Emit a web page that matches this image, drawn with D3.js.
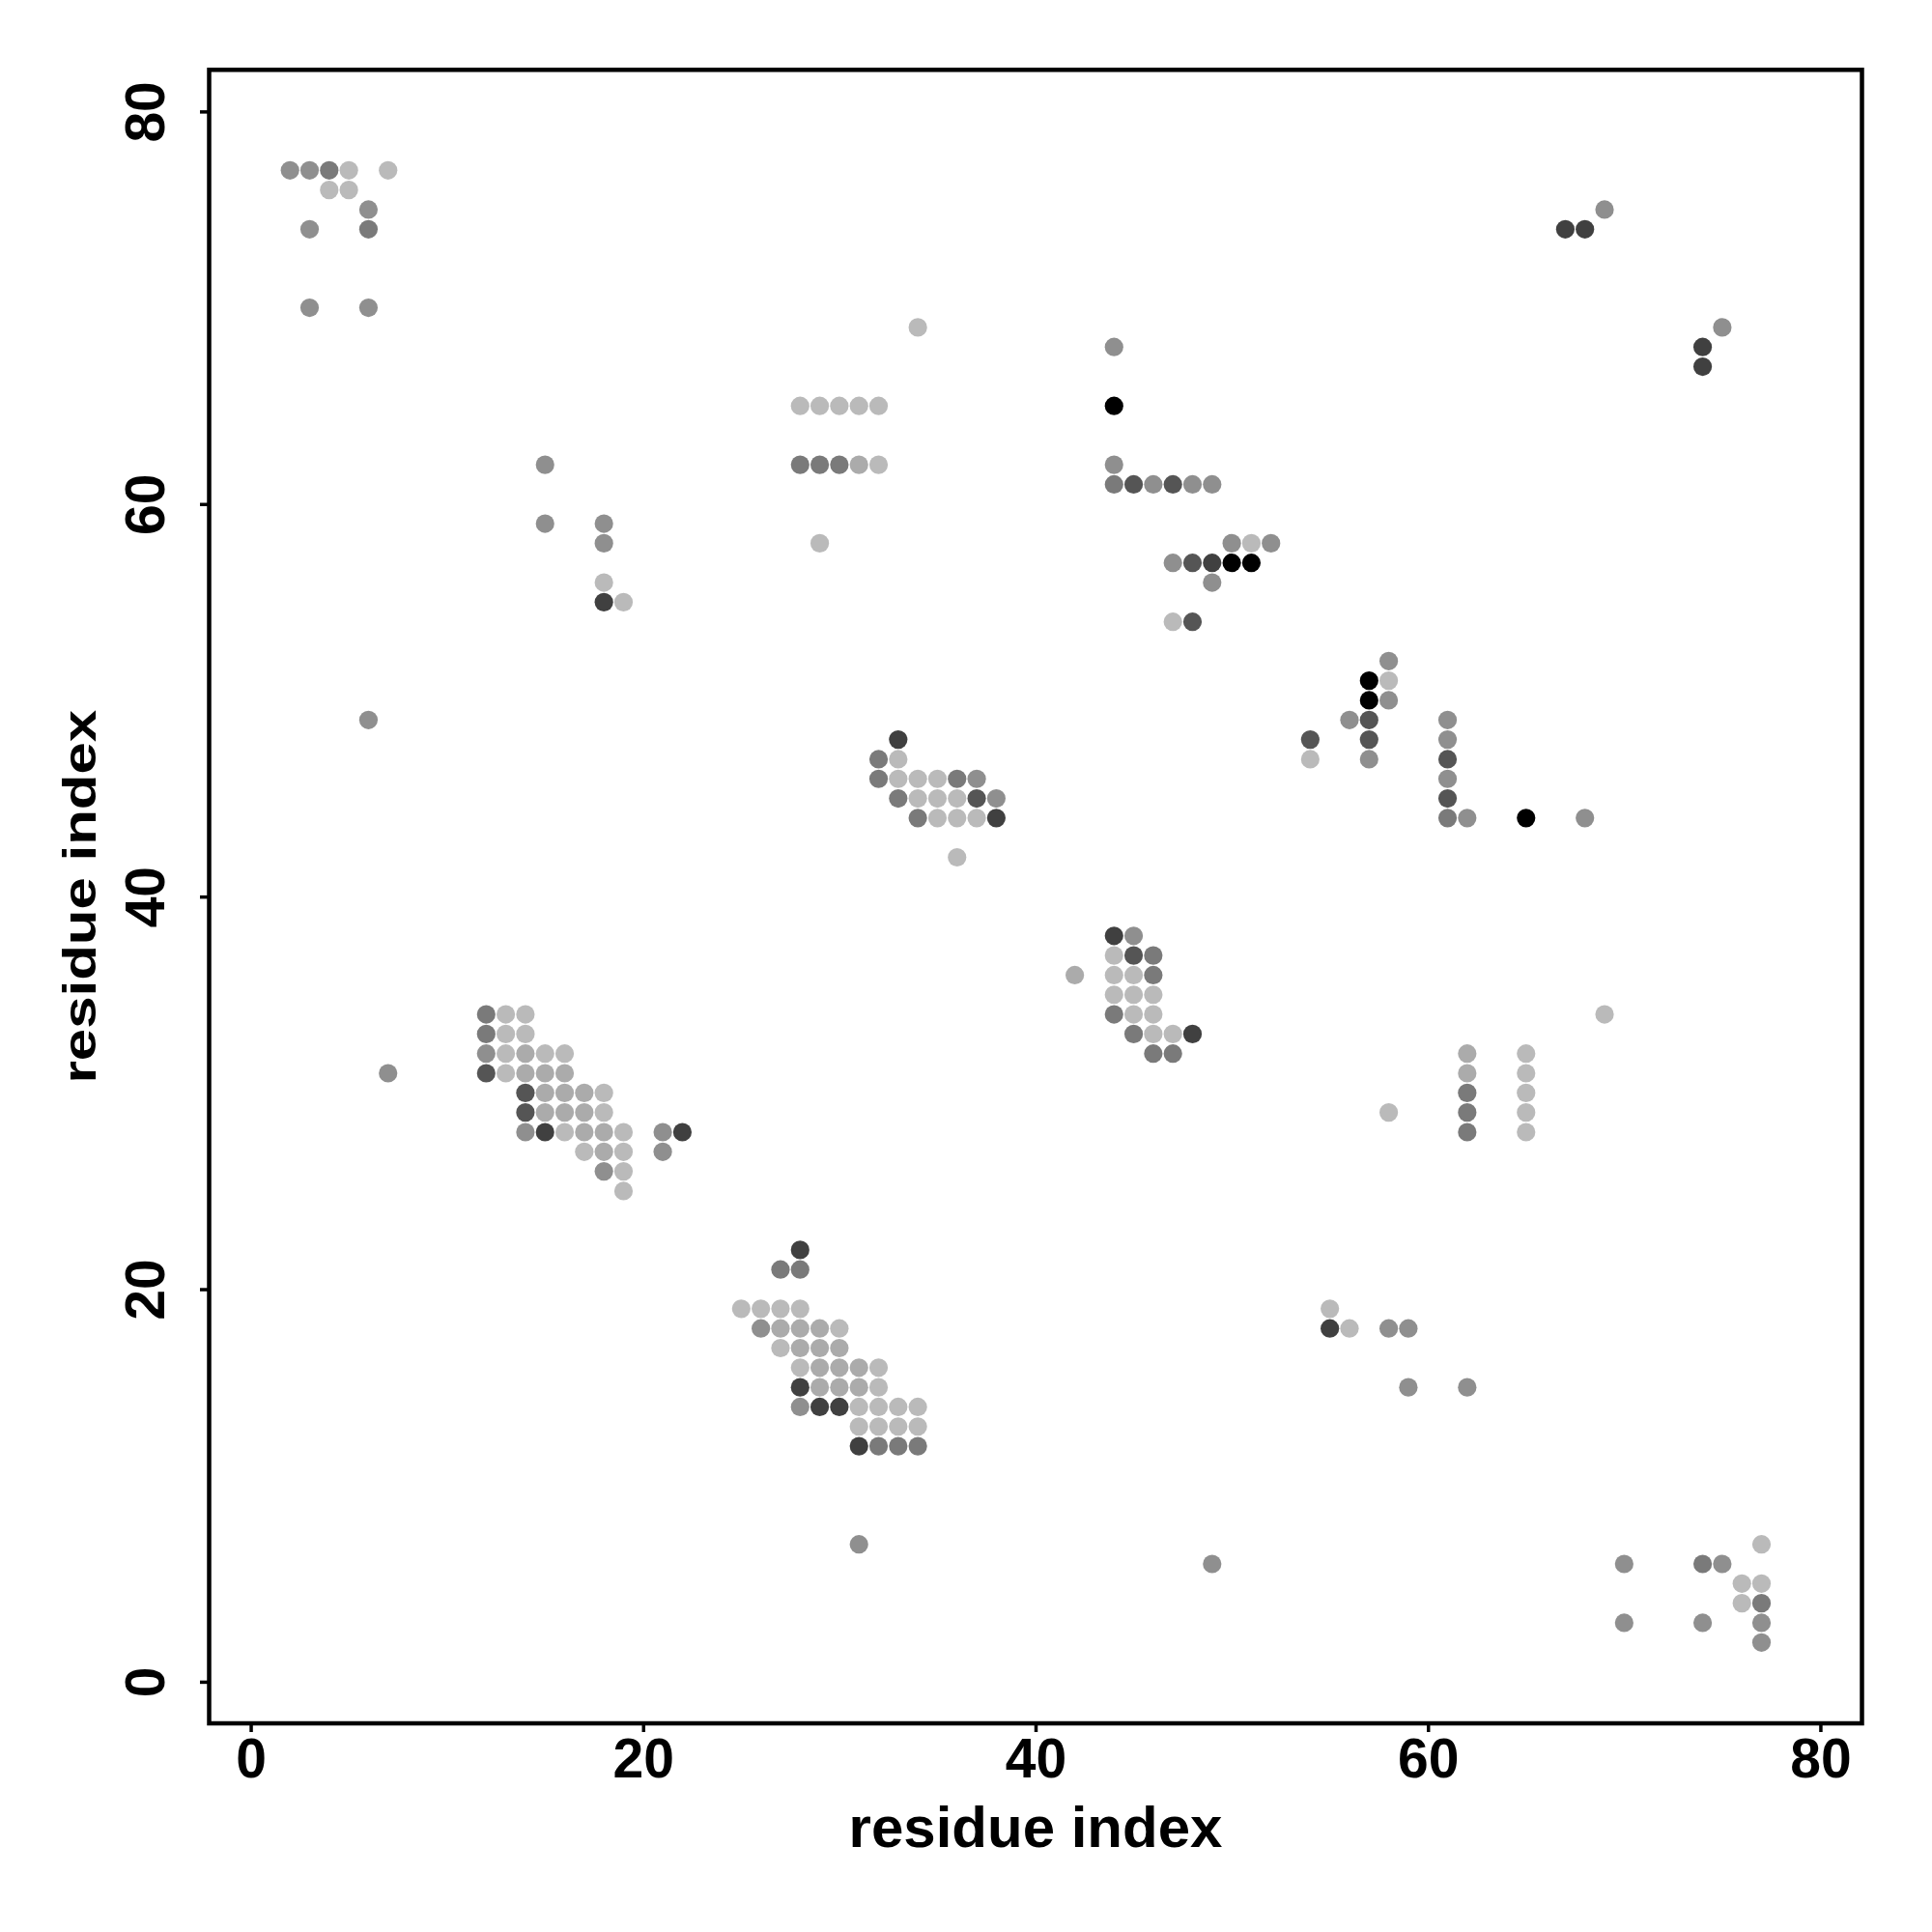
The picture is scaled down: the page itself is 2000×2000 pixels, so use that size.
<!DOCTYPE html>
<html>
<head>
<meta charset="utf-8">
<script src="https://cdn.jsdelivr.net/npm/d3@7"></script>
<style>
  html, body { margin: 0; padding: 0; background: #ffffff; }
  svg { display: block; }
  text { font-family: "Liberation Sans", Arial, Helvetica, sans-serif; font-weight: bold; fill: #000; }
</style>
</head>
<body>
<script>
// contacts: [residue i (x), residue j (y), shade level]
const contacts = [
  [2,77,4],[3,77,4],[4,77,3],[5,77,6],[7,77,6],
  [4,76,6],[5,76,6],[6,75,4],[3,74,4],[6,74,3],[3,70,4],[6,70,4],
  [15,62,4],[15,59,4],[18,59,4],[18,58,4],[18,56,6],[18,55,1],[19,55,6],
  [6,49,4],[7,31,4],
  [34,69,6],
  [28,65,6],[29,65,6],[30,65,6],[31,65,6],[32,65,6],
  [28,62,3],[29,62,3],[30,62,3],[31,62,5],[32,62,6],
  [29,58,6],
  [44,68,4],[44,65,0],[44,62,4],
  [44,61,3],[45,61,2],[46,61,4],[47,61,2],[48,61,4],[49,61,4],
  [50,58,4],[51,58,6],[52,58,4],
  [47,57,4],[48,57,2],[49,57,1],[50,57,0],[51,57,0],
  [49,56,4],[47,54,6],[48,54,2],
  [69,75,4],[67,74,1],[68,74,1],
  [75,69,4],[74,68,1],[74,67,1],
  [58,52,4],[57,51,0],[58,51,6],[57,50,0],[58,50,4],
  [56,49,4],[57,49,2],[61,49,4],
  [54,48,2],[57,48,2],[61,48,4],
  [54,47,6],[57,47,4],[61,47,2],
  [61,46,4],[61,45,2],
  [61,44,3],[62,44,4],[65,44,0],[68,44,4],
  [33,48,1],
  [32,47,3],[33,47,6],
  [32,46,3],[33,46,6],[34,46,6],[35,46,6],[36,46,3],[37,46,4],
  [33,45,3],[34,45,6],[35,45,6],[36,45,6],[37,45,2],[38,45,4],
  [34,44,3],[35,44,6],[36,44,6],[37,44,6],[38,44,1],
  [36,42,6],
  [44,38,1],[45,38,4],
  [44,37,6],[45,37,2],[46,37,3],
  [42,36,5],[44,36,6],[45,36,6],[46,36,3],
  [44,35,6],[45,35,6],[46,35,6],
  [44,34,3],[45,34,6],[46,34,6],
  [45,33,3],[46,33,6],[47,33,6],[48,33,1],
  [46,32,3],[47,32,3],
  [12,34,3],[13,34,6],[14,34,6],
  [12,33,3],[13,33,6],[14,33,6],
  [12,32,4],[13,32,6],[14,32,5],[15,32,6],[16,32,6],
  [12,31,2],[13,31,6],[14,31,5],[15,31,5],[16,31,5],
  [14,30,2],[15,30,5],[16,30,5],[17,30,5],[18,30,6],
  [14,29,2],[15,29,5],[16,29,5],[17,29,5],[18,29,6],
  [14,28,4],[15,28,1],[16,28,6],[17,28,5],[18,28,5],[19,28,6],[21,28,4],[22,28,1],
  [17,27,6],[18,27,5],[19,27,6],[21,27,4],
  [18,26,4],[19,26,6],
  [19,25,6],
  [28,22,1],
  [27,21,3],[28,21,3],
  [25,19,6],[26,19,6],[27,19,6],[28,19,6],
  [26,18,4],[27,18,5],[28,18,5],[29,18,5],[30,18,6],
  [27,17,6],[28,17,5],[29,17,5],[30,17,5],
  [28,16,6],[29,16,5],[30,16,5],[31,16,5],[32,16,6],
  [28,15,1],[29,15,5],[30,15,5],[31,15,5],[32,15,6],
  [28,14,4],[29,14,1],[30,14,1],[31,14,6],[32,14,6],[33,14,6],[34,14,6],
  [31,13,6],[32,13,6],[33,13,6],[34,13,6],
  [31,12,1],[32,12,3],[33,12,3],[34,12,3],
  [69,34,6],
  [62,32,5],[62,31,5],[62,30,3],[62,29,3],[62,28,3],
  [65,32,6],[65,31,6],[65,30,6],[65,29,6],[65,28,6],
  [58,29,6],
  [55,19,6],[55,18,1],[56,18,6],[58,18,4],[59,18,4],
  [59,15,4],[62,15,4],
  [31,7,4],[49,6,4],
  [70,6,4],[70,3,4],
  [74,6,3],[75,6,4],[74,3,4],
  [76,5,6],[76,4,6],
  [77,7,6],[77,5,6],[77,4,3],[77,3,4],[77,2,4]
];

const shadeLevels = [0, 1, 2, 3, 4, 5, 6];
const shadeColors = ["#000000", "#404040", "#555555", "#7a7a7a", "#8f8f8f", "#ababab", "#bababa"];
const tickValues = [0, 20, 40, 60, 80];
const axisTitleX = "residue index";
const axisTitleY = "residue index";

const W = 2000, H = 2000;
const box = { left: 216.5, right: 1927.5, top: 72.3, bottom: 1784 };

const svg = d3.select("body").append("svg")
  .attr("width", W).attr("height", H)
  .attr("viewBox", `0 0 ${W} ${H}`);

svg.append("rect").attr("width", W).attr("height", H).attr("fill", "#fff");

const x = d3.scaleLinear().domain([-2.12, 82.12]).range([box.left, box.right]);
const y = d3.scaleLinear().domain([-2.12, 82.12]).range([box.bottom, box.top]);
const color = d3.scaleOrdinal().domain(shadeLevels).range(shadeColors);

// points
svg.append("g")
  .selectAll("circle")
  .data(contacts)
  .join("circle")
  .attr("cx", d => x(d[0]))
  .attr("cy", d => y(d[1]))
  .attr("r", 9.6)
  .attr("fill", d => color(d[2]));

// x axis
const gx = svg.append("g")
  .attr("transform", `translate(0,${box.bottom})`)
  .call(d3.axisBottom(x).tickValues(tickValues).tickSize(9).tickFormat(d3.format("d")));
gx.select(".domain").remove();
gx.selectAll(".tick line").attr("stroke", "#000").attr("stroke-width", 3.5);
gx.selectAll(".tick text")
  .attr("y", 55.5).attr("dy", 0)
  .attr("font-size", 57)
  .attr("font-family", "'Liberation Sans', Arial, sans-serif")
  .attr("font-weight", "bold")
  .attr("fill", "#000");

// y axis
const gy = svg.append("g")
  .attr("transform", `translate(${box.left},0)`)
  .call(d3.axisLeft(y).tickValues(tickValues).tickSize(9.5).tickFormat(d3.format("d")));
gy.select(".domain").remove();
gy.selectAll(".tick line").attr("stroke", "#000").attr("stroke-width", 3.5);
gy.selectAll(".tick text")
  .attr("x", null).attr("dy", 0).attr("y", 0)
  .attr("text-anchor", "middle")
  .attr("transform", "translate(-47,0) rotate(-90)")
  .attr("font-size", 57)
  .attr("font-family", "'Liberation Sans', Arial, sans-serif")
  .attr("font-weight", "bold")
  .attr("fill", "#000");

// box
svg.append("rect")
  .attr("x", box.left).attr("y", box.top)
  .attr("width", box.right - box.left).attr("height", box.bottom - box.top)
  .attr("fill", "none").attr("stroke", "#000").attr("stroke-width", 4.5);

// axis titles
svg.append("text")
  .attr("x", (box.left + box.right) / 2).attr("y", 1911.5)
  .attr("text-anchor", "middle")
  .attr("font-size", 60)
  .text(axisTitleX);

svg.append("text")
  .attr("transform", `translate(99,${(box.top + box.bottom) / 2}) rotate(-90) scale(1,0.79)`)
  .attr("text-anchor", "middle")
  .attr("font-size", 60)
  .text(axisTitleY);
</script>
</body>
</html>
